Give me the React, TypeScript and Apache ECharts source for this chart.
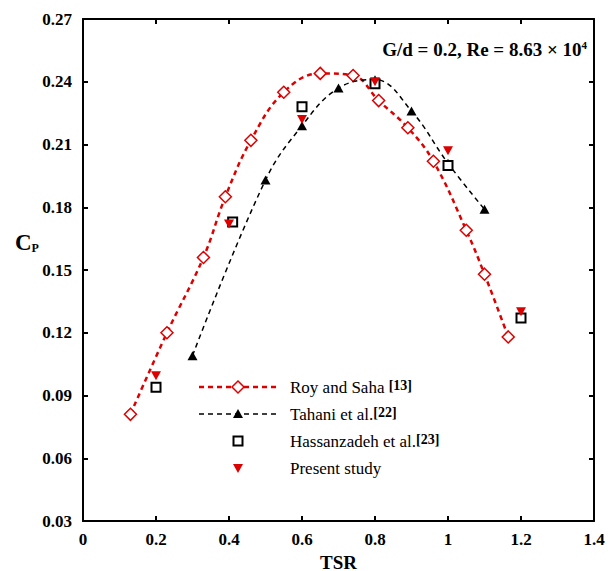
import React, { useEffect, useRef } from "react";
import * as echarts from "echarts";

// ---- data ----
const roySahaTSR = [0.13, 0.23, 0.33, 0.39, 0.46, 0.55, 0.65, 0.74, 0.81, 0.89, 0.96, 1.05, 1.1, 1.165];
const roySahaCp = [0.081, 0.12, 0.156, 0.185, 0.212, 0.235, 0.244, 0.243, 0.231, 0.218, 0.202, 0.169, 0.148, 0.118];

const tahaniTSR = [0.3, 0.5, 0.6, 0.7, 0.8, 0.9, 1.0, 1.1];
const tahaniCp = [0.109, 0.193, 0.219, 0.237, 0.241, 0.226, 0.201, 0.179];

const hassanTSR = [0.2, 0.41, 0.6, 0.8, 1.0, 1.2];
const hassanCp = [0.094, 0.173, 0.228, 0.239, 0.2, 0.127];

const presentTSR = [0.2, 0.4, 0.6, 0.8, 1.0, 1.2];
const presentCp = [0.0995, 0.172, 0.222, 0.24, 0.207, 0.13];

const legendLabels = ["Roy and Saha ", "Tahani et al.", "Hassanzadeh et al.", "Present study"];
const legendRefs = ["[13]", "[22]", "[23]", ""];

const xTicks = { min: 0, max: 1.4, interval: 0.2 };
const yTicks = { min: 0.03, max: 0.27, interval: 0.03 };

const FONT = "'Liberation Serif', 'Times New Roman', serif";
const RED = "#dd0000";

const zip = (xs: number[], ys: number[]) => xs.map((x, i) => [x, ys[i]]);

export default function App() {
  const ref = useRef<HTMLDivElement>(null);

  useEffect(() => {
    if (!ref.current) return;
    const chart = echarts.init(ref.current, undefined, { renderer: "svg" });

    const axisLine = { show: true, onZero: false, lineStyle: { color: "#000", width: 2 } };
    const axisTick = { show: true, inside: true, length: 5, lineStyle: { color: "#000", width: 2 } };
    const labelStyle = { fontFamily: FONT, fontWeight: "bold" as const, fontSize: 17, color: "#000" };

    const rowY = [387, 414, 441, 468];
    const lx1 = 199, lx2 = 277, mx = 238, tx = 290;

    const legendGraphics: any[] = [];
    legendGraphics.push({ type: "line", shape: { x1: lx1, y1: rowY[0], x2: lx2, y2: rowY[0] }, style: { stroke: RED, lineWidth: 2.5, lineDash: [5, 4] } });
    legendGraphics.push({ type: "polygon", shape: { points: [[mx, rowY[0] - 6], [mx + 6, rowY[0]], [mx, rowY[0] + 6], [mx - 6, rowY[0]]] }, style: { fill: "#fff", stroke: RED, lineWidth: 1.5 } });
    legendGraphics.push({ type: "line", shape: { x1: lx1, y1: rowY[1], x2: lx2, y2: rowY[1] }, style: { stroke: "#000", lineWidth: 1.5, lineDash: [5, 4] } });
    legendGraphics.push({ type: "polygon", shape: { points: [[mx, rowY[1] - 5], [mx + 5, rowY[1] + 4], [mx - 5, rowY[1] + 4]] }, style: { fill: "#000" } });
    legendGraphics.push({ type: "rect", shape: { x: mx - 4.5, y: rowY[2] - 4.5, width: 9, height: 9 }, style: { fill: "#fff", stroke: "#000", lineWidth: 2 } });
    legendGraphics.push({ type: "polygon", shape: { points: [[mx - 5, rowY[3] - 4], [mx + 5, rowY[3] - 4], [mx, rowY[3] + 5]] }, style: { fill: RED } });

    legendLabels.forEach((lab, i) => {
      const txt = legendRefs[i] ? `{n|${lab}}{b|${legendRefs[i]}}` : `{n|${lab}}`;
      legendGraphics.push({
        type: "text",
        x: tx,
        y: rowY[i],
        style: {
          text: txt,
          font: `17px ${FONT}`,
          align: "left",
          verticalAlign: "middle",
          fill: "#000",
          rich: {
            n: { font: `17px ${FONT}`, fill: "#000" },
            b: { font: `bold 14px ${FONT}`, fill: "#000", verticalAlign: "top" },
          },
        },
      });
    });

    const option: any = {
      animation: false,
      backgroundColor: "#fff",
      grid: { left: 83, right: 14, top: 19, bottom: 50, containLabel: false, outerBoundsMode: "none" },
      xAxis: [
        {
          type: "value",
          ...xTicks,
          position: "bottom",
          axisLine,
          axisTick,
          splitLine: { show: false },
          axisLabel: { ...labelStyle, margin: 10 },
          name: "TSR",
          nameLocation: "middle",
          nameGap: 27,
          nameTextStyle: { fontFamily: FONT, fontWeight: "bold", fontSize: 19, lineHeight: 19, color: "#000" },
        },
        {
          type: "value",
          ...xTicks,
          position: "top",
          axisLine,
          axisTick,
          splitLine: { show: false },
          axisLabel: { show: false },
        },
      ],
      yAxis: [
        {
          type: "value",
          ...yTicks,
          position: "left",
          axisLine,
          axisTick,
          splitLine: { show: false },
          axisLabel: { ...labelStyle, margin: 11, formatter: (v: number) => v.toFixed(2) },
        },
        {
          type: "value",
          ...yTicks,
          position: "right",
          axisLine,
          axisTick,
          splitLine: { show: false },
          axisLabel: { show: false },
        },
      ],
      graphic: [
        {
          type: "text",
          x: 15,
          y: 242,
          style: {
            text: "{c|C}{p|P}",
            font: `bold 23px ${FONT}`,
            align: "left",
            verticalAlign: "middle",
            fill: "#000",
            rich: {
              c: { font: `bold 23px ${FONT}`, fill: "#000" },
              p: { font: `bold 12px ${FONT}`, fill: "#000", verticalAlign: "bottom" },
            },
          },
        },
        {
          type: "text",
          x: 587,
          y: 49,
          style: {
            text: "{a|G/d = 0.2, Re = 8.63 × 10}{s|4}",
            font: `bold 19px ${FONT}`,
            align: "right",
            verticalAlign: "middle",
            fill: "#000",
            rich: {
              a: { font: `bold 19px ${FONT}`, fill: "#000" },
              s: { font: `bold 11px ${FONT}`, fill: "#000", verticalAlign: "top" },
            },
          },
        },
        ...legendGraphics,
      ],
      series: [
        {
          name: "Roy and Saha",
          type: "line",
          data: zip(roySahaTSR, roySahaCp),
          smooth: 0.4,
          symbol: "diamond",
          symbolSize: 12,
          showSymbol: true,
          itemStyle: { color: "#fff", borderColor: RED, borderWidth: 1.5 },
          lineStyle: { color: RED, width: 2.5, type: [5, 4] },
          z: 2,
        },
        {
          name: "Tahani et al.",
          type: "line",
          data: zip(tahaniTSR, tahaniCp),
          smooth: 0.4,
          symbol: "triangle",
          symbolSize: [10, 9],
          showSymbol: true,
          itemStyle: { color: "#000" },
          lineStyle: { color: "#000", width: 1.5, type: [5, 4] },
          z: 3,
        },
        {
          name: "Hassanzadeh et al.",
          type: "scatter",
          data: zip(hassanTSR, hassanCp),
          symbol: "rect",
          symbolSize: 9,
          itemStyle: { color: "#fff", borderColor: "#000", borderWidth: 2, opacity: 1 },
          z: 4,
        },
        {
          name: "Present study",
          type: "scatter",
          data: zip(presentTSR, presentCp),
          symbol: "triangle",
          symbolRotate: 180,
          symbolSize: [10, 9],
          itemStyle: { color: RED, opacity: 1 },
          z: 5,
        },
      ],
    };

    chart.setOption(option);
    return () => chart.dispose();
  }, []);

  return (
    <div
      ref={ref}
      style={{ position: "fixed", left: 0, top: 0, width: 608, height: 571, background: "#fff" }}
    />
  );
}
